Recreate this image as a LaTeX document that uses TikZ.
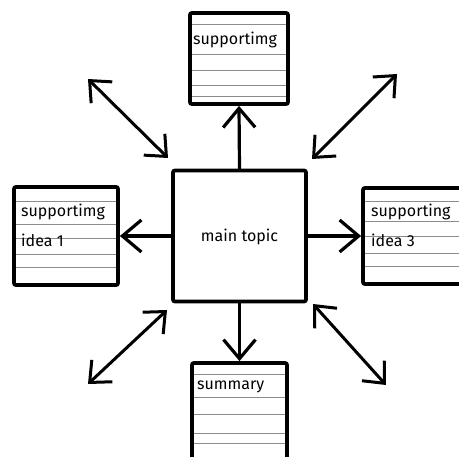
\documentclass[tikz,border=0pt]{standalone}
\usepackage{fontspec}
\setmainfont{Fira Sans}
\usetikzlibrary{arrows.meta,positioning}
\tikzset{
  note/.style={draw,line width=3.8pt,rounded corners=2pt,fill=white,inner sep=0pt,
    path picture={\foreach \d in {#1}
      \draw[rule] ([yshift=-\d pt]path picture bounding box.north west) -- ([yshift=-\d pt]path picture bounding box.north east);}},
  rule/.style={black!45,line width=1pt},
  link/.style={line width=3.2pt,line cap=round,-{Straight Barb[length=19pt,width=32pt]}},
  twoway/.style={line width=3pt,line cap=round,{Straight Barb[length=17pt,width=30pt]}-{Straight Barb[length=17pt,width=30pt]}},
  notetext/.style={anchor=west,inner sep=0pt,font=\fontsize{16}{18}\selectfont}
}
\begin{document}
\begin{tikzpicture}[x=1pt,y=-1pt]
  \useasboundingbox (0,0) rectangle (459,457);
  % boxes
  \node[draw,line width=3.8pt,rounded corners=2pt,minimum width=133pt,minimum height=131pt,inner sep=0pt] (main) at (239.5,236) {};
  \node[note={12,42,58,73,84},minimum width=98pt,minimum height=91pt] (up) at (239,58.5) {};
  \node[note={15,38,52,68,81},minimum width=104pt,minimum height=98pt] (left) at (66,236) {};
  \node[note={14,34,49,66,79},minimum width=112pt,minimum height=96pt] (right) at (419,236) {};
  \node[note={12,35,52,71,81,95},minimum width=95pt,minimum height=107pt] (down) at (239.5,416.5) {};
  % texts
  \node[font=\fontsize{16}{18}\selectfont] (maintxt) at (239.5,237) {main topic};
  \node[notetext] (uptxt) at (193,40) {supportimg};
  \node[notetext] (lefttxt) at (21,212) {supportimg};
  \node[notetext] (leftidea) at (21,240) {idea 1};
  \node[notetext] (righttxt) at (371,212) {supporting};
  \node[notetext] (rightidea) at (371,240) {idea 3};
  \node[notetext] (downtxt) at (197,387) {summary};
  % arrows
  \draw[link] (main.north) -- (up.south);
  \draw[link] (main.west) -- (left.east);
  \draw[link] (main.east) -- (right.west);
  \draw[link] (main.south) -- (down.north);
  \coordinate (tl) at (88,79);  \coordinate (tlm) at (168,158);
  \coordinate (tr) at (397,74); \coordinate (trm) at (312,159);
  \coordinate (bl) at (88,384); \coordinate (blm) at (167,310);
  \coordinate (br) at (386,385); \coordinate (brm) at (313,304);
  \draw[twoway] (tl) -- (tlm);
  \draw[twoway] (tr) -- (trm);
  \draw[twoway] (bl) -- (blm);
  \draw[twoway] (br) -- (brm);
\end{tikzpicture}
\end{document}
